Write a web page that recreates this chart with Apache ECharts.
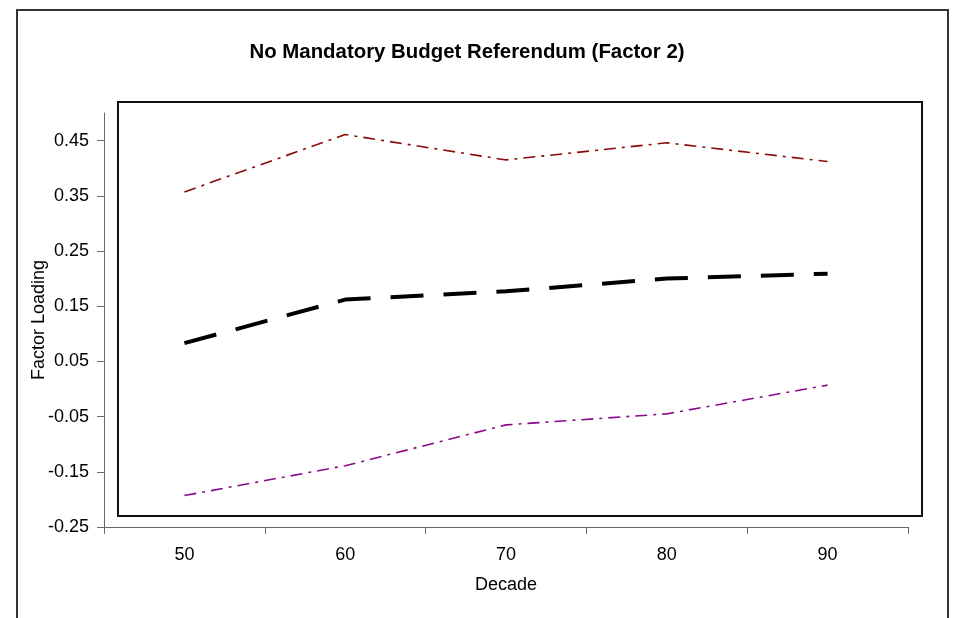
<!DOCTYPE html>
<html>
<head>
<meta charset="utf-8">
<script src="https://cdn.jsdelivr.net/npm/echarts@6/dist/echarts.min.js"></script>
<style>
  html, body { margin: 0; padding: 0; background: #fff; }
  #main { width: 965px; height: 618px; }
</style>
</head>
<body>
<div id="main"></div>
<script>
var decades = ['50', '60', '70', '80', '90'];
var upperBand = [0.357, 0.461, 0.415, 0.446, 0.412];
var factorLoading = [0.083, 0.162, 0.177, 0.200, 0.209];
var lowerBand = [-0.193, -0.139, -0.065, -0.045, 0.007];
var yTicks = [-0.25, -0.15, -0.05, 0.05, 0.15, 0.25, 0.35, 0.45];

var myChart = echarts.init(document.getElementById('main'));
var font = 'Liberation Sans, Arial, sans-serif';

var option = {
  backgroundColor: '#fff',
  animation: false,
  title: {
    text: 'No Mandatory Budget Referendum (Factor 2)',
    left: 462,
    top: 37,
    textAlign: 'center',
    textStyle: { fontFamily: font, fontSize: 20.4, fontWeight: 'bold', color: '#000' }
  },
  grid: { left: 104, right: 57, top: 113, bottom: 91 },
  xAxis: {
    type: 'category',
    data: decades,
    name: 'Decade',
    nameLocation: 'middle',
    nameGap: 49,
    nameMoveOverlap: false,
    nameTextStyle: { fontFamily: font, fontSize: 18, color: '#000' },
    axisLine: { onZero: false, lineStyle: { color: '#666', width: 1 } },
    axisTick: { show: true, interval: 0, length: 7, lineStyle: { color: '#666' } },
    axisLabel: { margin: 19, fontFamily: font, fontSize: 18, color: '#000' }
  },
  yAxis: {
    type: 'value',
    min: -0.25,
    max: 0.5,
    interval: 0.1,
    name: 'Factor Loading',
    nameLocation: 'middle',
    nameGap: 56,
    nameMoveOverlap: false,
    nameTextStyle: { fontFamily: font, fontSize: 18, color: '#000' },
    splitLine: { show: false },
    axisLine: { show: true, lineStyle: { color: '#666', width: 1 } },
    axisTick: { show: true, length: 7, lineStyle: { color: '#666' }, customValues: yTicks },
    axisLabel: {
      margin: 15,
      fontFamily: font,
      fontSize: 18,
      color: '#000',
      customValues: yTicks,
      formatter: function (v) { return v.toFixed(2); }
    }
  },
  graphic: [
    {
      type: 'rect',
      shape: { x: 17, y: 10, width: 931, height: 700 },
      style: { fill: 'none', stroke: '#333', lineWidth: 2 },
      silent: true
    },
    {
      type: 'rect',
      shape: { x: 118, y: 102, width: 804, height: 414 },
      style: { fill: 'none', stroke: '#111', lineWidth: 2 },
      silent: true
    }
  ],
  series: [
    {
      name: 'upper',
      type: 'line',
      data: upperBand,
      symbol: 'none',
      lineStyle: { color: '#8b0a0a', width: 1.6, type: [12, 6, 3, 6] }
    },
    {
      name: 'loading',
      type: 'line',
      data: factorLoading,
      symbol: 'none',
      lineStyle: { color: '#000', width: 4, type: [33, 20] }
    },
    {
      name: 'lower',
      type: 'line',
      data: lowerBand,
      symbol: 'none',
      lineStyle: { color: '#8b0a8b', width: 1.6, type: [12, 6, 3, 6] }
    }
  ]
};

myChart.setOption(option);
</script>
</body>
</html>
